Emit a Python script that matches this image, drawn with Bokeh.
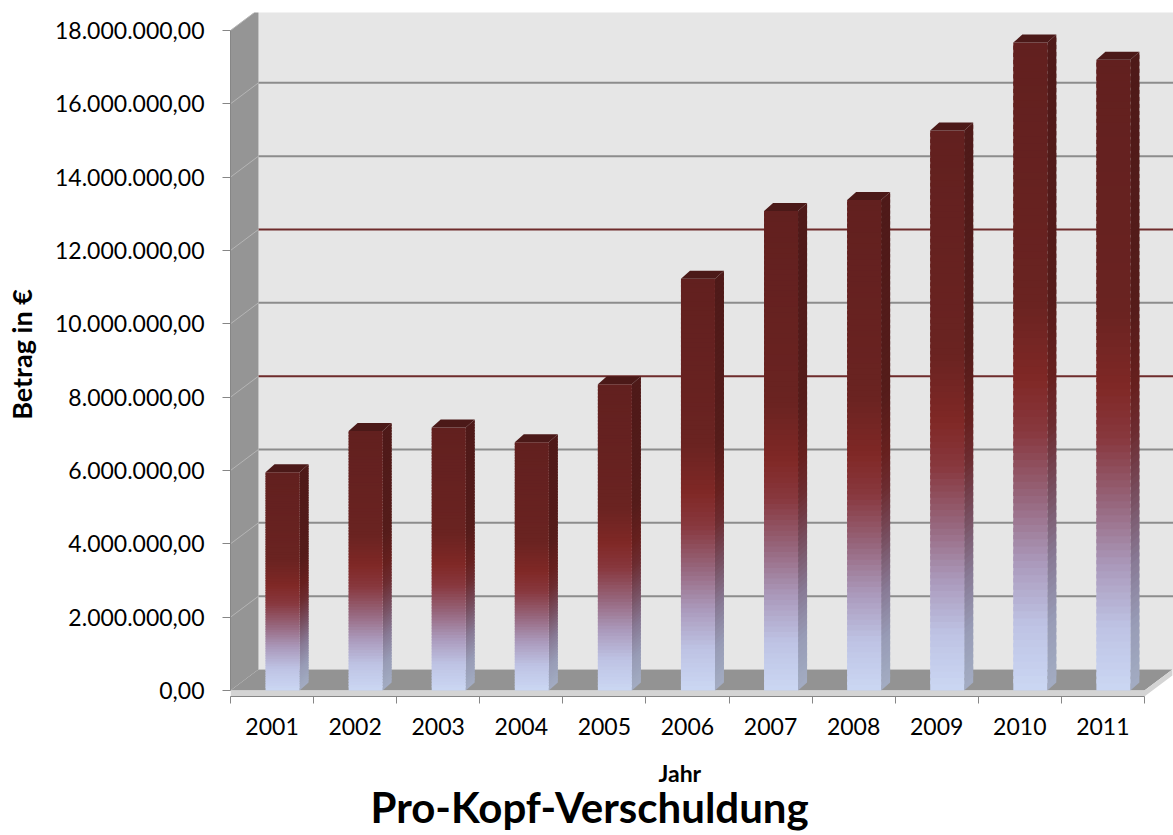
from bokeh.plotting import figure
from bokeh.models import Range1d, FixedTicker, Title
from bokeh.embed import file_html
from bokeh.resources import INLINE

# ---------------- data ----------------
years = ["2001", "2002", "2003", "2004", "2005", "2006",
         "2007", "2008", "2009", "2010", "2011"]
values = [5950000, 7080000, 7170000, 6770000, 8350000, 11230000,
          13080000, 13380000, 15270000, 17670000, 17200000]
y_ticks = [0, 2000000, 4000000, 6000000, 8000000, 10000000,
           12000000, 14000000, 16000000, 18000000]
y_tick_labels = ["0,00", "2.000.000,00", "4.000.000,00", "6.000.000,00",
                 "8.000.000,00", "10.000.000,00", "12.000.000,00",
                 "14.000.000,00", "16.000.000,00", "18.000.000,00"]

# ---------------- style / 3D geometry ----------------
FONT = "Lato"
PX_X = 83.1          # pixels per category
PX_Y = 36.667 / 1e6  # pixels per unit value
wall_dx = 28 / PX_X
wall_dy = 21 / PX_Y
bar_off = 10.5 / PX_X
bar_hw = 17 / PX_X
bar_dx = 9 / PX_X
bar_dy = 8 / PX_Y
x_lo, x_hi = -0.5, len(years) - 0.5
y_lo = -6 / PX_Y

stops = [(0.00, (203, 215, 243)), (0.10, (190, 195, 228)),
         (0.20, (170, 152, 186)), (0.30, (150, 100, 122)),
         (0.40, (136, 56, 62)), (0.48, (128, 40, 38)),
         (0.60, (106, 35, 33)), (1.00, (98, 32, 31))]


def grad(f, k=1.0):
    for (f0, c0), (f1, c1) in zip(stops[:-1], stops[1:]):
        if f <= f1:
            t = (f - f0) / (f1 - f0)
            c = [int(round((a + (b - a) * t) * k)) for a, b in zip(c0, c1)]
            return "#%02x%02x%02x" % tuple(c)
    c = [int(round(a * k)) for a in stops[-1][1]]
    return "#%02x%02x%02x" % tuple(c)


p = figure(width=1173, height=835,
           x_range=Range1d(-0.5, 10.85),
           y_range=Range1d(y_lo, 18490000),
           output_backend="svg", toolbar_location=None,
           min_border_left=230, min_border_top=12,
           min_border_bottom=139, min_border_right=0)
p.xgrid.visible = False
p.ygrid.visible = False
p.outline_line_color = None
p.background_fill_color = "white"
p.border_fill_color = "white"

ymax = y_ticks[-1]

# back wall
p.quad(left=[x_lo + wall_dx], right=[x_hi + 2], bottom=[wall_dy],
       top=[ymax + wall_dy], fill_color="#e6e6e6", line_color=None)
p.segment(x0=[x_lo + wall_dx], y0=[ymax + wall_dy], x1=[x_hi + 2],
          y1=[ymax + wall_dy], line_color="#a6a6a6", line_width=2)
# left wall
p.patch(x=[x_lo, x_lo + wall_dx, x_lo + wall_dx, x_lo],
        y=[0, wall_dy, ymax + wall_dy, ymax],
        fill_color="#959595", line_color=None)

# gridlines (back wall + slanted on side wall)
grid_cols = []
for v in y_ticks[1:-1]:
    grid_cols.append("#6e2b2b" if v in (8000000, 12000000) else "#8c8c8c")
p.segment(x0=[x_lo + wall_dx] * (len(y_ticks) - 2),
          y0=[v + wall_dy for v in y_ticks[1:-1]],
          x1=[x_hi + 2] * (len(y_ticks) - 2),
          y1=[v + wall_dy for v in y_ticks[1:-1]],
          line_color=grid_cols, line_width=2)
p.segment(x0=[x_lo] * (len(y_ticks) - 1), y0=y_ticks[1:],
          x1=[x_lo + wall_dx] * (len(y_ticks) - 1),
          y1=[v + wall_dy for v in y_ticks[1:]],
          line_color="#b5b5b5", line_width=1)

# floor
p.patch(x=[x_lo, x_hi, x_hi + wall_dx, x_lo + wall_dx],
        y=[0, 0, wall_dy, wall_dy], fill_color="#939393", line_color=None)
p.patch(x=[x_lo, x_hi, x_hi + wall_dx, x_hi + wall_dx, x_hi, x_lo],
        y=[y_lo, y_lo, wall_dy + y_lo, wall_dy, 0, 0],
        fill_color="#d4d4d4", line_color=None)

# bars with gradient
N = 90
fl, fr, fb, ft, fc = [], [], [], [], []
sxs, sys_, sc = [], [], []
txs, tys = [], []
for i, v in enumerate(values):
    xl = i + bar_off - bar_hw
    xr = i + bar_off + bar_hw
    for k in range(N):
        y0 = v * k / N
        y1 = v * (k + 1) / N + (v / N * 0.6 if k < N - 1 else 0)
        fm = (k + 0.5) / N
        fl.append(xl); fr.append(xr); fb.append(y0); ft.append(y1)
        fc.append(grad(fm))
        sxs.append([xr, xr + bar_dx, xr + bar_dx, xr])
        sys_.append([y0, y0 + bar_dy, y1 + bar_dy, y1])
        sc.append(grad(fm, 0.8))
    txs.append([xl, xl + bar_dx, xr + bar_dx, xr])
    tys.append([v, v + bar_dy, v + bar_dy, v])

p.patches(xs=sxs, ys=sys_, fill_color=sc, line_color=None)
p.quad(left=fl, right=fr, bottom=fb, top=ft, fill_color=fc, line_color=None)
p.patches(xs=txs, ys=tys, fill_color="#4b1918", line_color=None)

# axes
xa = p.xaxis[0]
xa.ticker = FixedTicker(ticks=list(range(len(years))),
                        minor_ticks=[i - 0.5 for i in range(len(years) + 1)])
xa.major_label_overrides = {i: y for i, y in enumerate(years)}
xa.bounds = (x_lo, x_hi)
xa.major_tick_out = 0
xa.major_tick_in = 0
xa.minor_tick_out = 7
xa.minor_tick_in = 0
xa.axis_line_color = "#868686"
xa.minor_tick_line_color = "#868686"
xa.major_label_text_font = FONT
xa.major_label_text_font_size = "23px"
xa.major_label_text_color = "black"
xa.major_label_standoff = 14

ya = p.yaxis[0]
ya.ticker = FixedTicker(ticks=y_ticks, minor_ticks=[])
ya.major_label_overrides = {t: l for t, l in zip(y_ticks, y_tick_labels)}
ya.bounds = (0, ymax)
ya.major_tick_out = 8
ya.major_tick_in = 0
ya.minor_tick_line_color = None
ya.axis_line_color = "#868686"
ya.major_tick_line_color = "#868686"
ya.major_label_text_font = FONT
ya.major_label_text_font_size = "23px"
ya.major_label_text_color = "black"
ya.major_label_standoff = 18
ya.axis_label = "Betrag in €"
ya.axis_label_text_font = FONT
ya.axis_label_text_font_size = "27px"
ya.axis_label_text_font_style = "bold"
ya.axis_label_text_color = "black"
ya.axis_label_standoff = 14

# x-axis caption ("Jahr") and chart title, both below the axis
p.add_layout(Title(text="Jahr", align="left", offset=428,
                   text_font=FONT, text_font_size="23px",
                   text_font_style="bold", text_color="black",
                   standoff=38), "below")
p.add_layout(Title(text="Pro-Kopf-Verschuldung", align="left", offset=140,
                   text_font=FONT, text_font_size="42px",
                   text_font_style="bold", text_color="black",
                   standoff=-52), "below")

open("out.html", "w").write(file_html(p, INLINE))
